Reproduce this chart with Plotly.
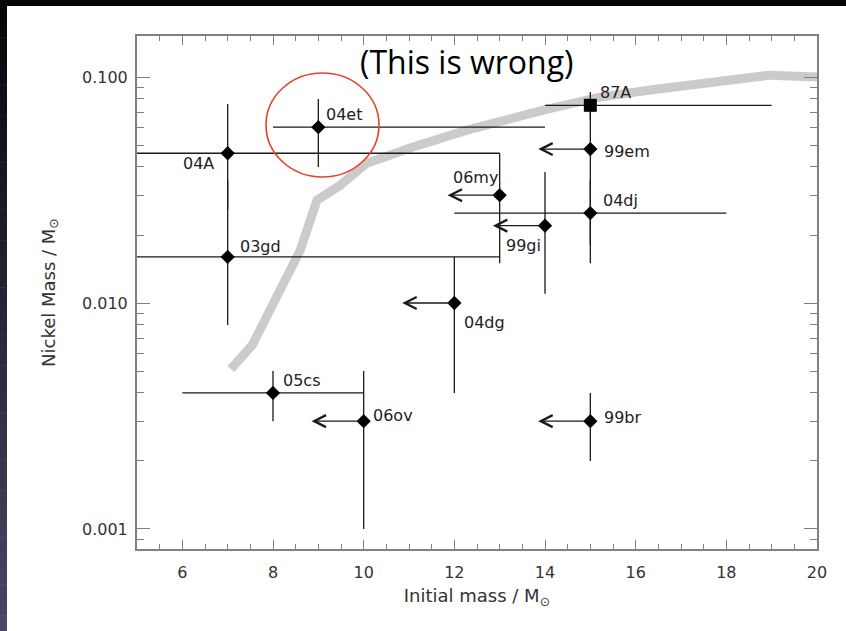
import numpy as np
import plotly.graph_objects as go

# ---------------- data ----------------
sn_names = ["87A", "04et", "04A", "99em", "06my", "04dj", "99gi", "03gd", "04dg", "05cs", "06ov", "99br"]
init_mass = [15, 9, 7, 15, 13, 15, 14, 7, 12, 8, 10, 15]
mass_err_minus = [1, 1, 2, 0, 0, 3, 0, 2, 0, 2, 0, 0]
mass_err_plus = [4, 5, 6, 0, 0, 3, 0, 6, 0, 2, 0, 0]
nickel_mass = [0.075, 0.060, 0.046, 0.048, 0.030, 0.025, 0.022, 0.016, 0.010, 0.004, 0.003, 0.003]
ni_err_minus = [0.010, 0.020, 0.020, 0.030, 0.015, 0.010, 0.011, 0.008, 0.006, 0.001, 0.002, 0.001]
ni_err_plus = [0.011, 0.020, 0.030, 0.022, 0.016, 0.010, 0.016, 0.019, 0.006, 0.001, 0.002, 0.001]
upper_limit = [False, False, False, True, True, False, True, False, True, False, True, True]
arrow_len = [0, 0, 0, 1.15, 1.15, 0, 1.15, 0, 1.15, 0, 1.15, 1.15]

model_mass = [7.07, 7.54, 8.6, 8.97, 9.48, 10.07, 11.09, 12.28, 13.96, 15.21, 16.32, 17.8, 18.96, 20.0]
model_nickel = [0.0051, 0.0065, 0.0171, 0.0285, 0.0332, 0.0416, 0.049, 0.0582, 0.0714, 0.0815, 0.0876, 0.0942, 0.102, 0.100]

x_ticks = [6, 8, 10, 12, 14, 16, 18, 20]
y_ticks = [0.001, 0.010, 0.100]
y_ticktext = ["0.001", "0.010", "0.100"]

# label placement (pixel offsets: xshift, yshift, anchor)
label_pos = {
    "87A": (8, 13, "left"), "04et": (6, 13, "left"), "04A": (-12, -10, "right"),
    "99em": (12, -2, "left"), "06my": (0, 18, "right"), "04dj": (11, 13, "left"),
    "99gi": (-2, -20, "right"), "03gd": (10, 10, "left"), "04dg": (8, -19, "left"),
    "05cs": (8, 12, "left"), "06ov": (7, 6, "left"), "99br": (12, 4, "left"),
}

W, H = 846, 631
L, R, T, B = 137, 29, 36, 82
PW, PH = W - L - R, H - T - B

def px2paper(x, y):
    return (x - L) / PW, 1 - (y - T) / PH

fig = go.Figure()

# model curve
fig.add_trace(go.Scatter(x=model_mass, y=model_nickel, mode="lines",
                         line=dict(color="#cbcbcb", width=9), hoverinfo="skip",
                         showlegend=False))

ink = "#1a1a1a"
for i, n in enumerate(sn_names):
    sym = "square" if n == "87A" else "diamond"
    size = 13 if n == "87A" else 11
    fig.add_trace(go.Scatter(
        x=[init_mass[i]], y=[nickel_mass[i]], mode="markers",
        marker=dict(symbol=sym, size=size, color="black", line=dict(width=0)),
        error_x=dict(type="data", symmetric=False, array=[mass_err_plus[i]],
                     arrayminus=[mass_err_minus[i]], color=ink, thickness=1.3, width=0,
                     visible=mass_err_plus[i] + mass_err_minus[i] > 0),
        error_y=dict(type="data", symmetric=False, array=[ni_err_plus[i]],
                     arrayminus=[ni_err_minus[i]], color=ink, thickness=1.3, width=0),
        showlegend=False, hoverinfo="skip"))

annotations = []
for i, n in enumerate(sn_names):
    xs, ys, anc = label_pos[n]
    annotations.append(dict(x=init_mass[i], y=np.log10(nickel_mass[i]), xref="x", yref="y",
                            text=n, showarrow=False, xanchor=anc, yanchor="middle",
                            xshift=xs, yshift=ys,
                            font=dict(family="DejaVu Sans", size=16, color="#222")))
    if upper_limit[i]:
        annotations.append(dict(x=init_mass[i] - arrow_len[i], y=np.log10(nickel_mass[i]),
                                ax=init_mass[i], ay=np.log10(nickel_mass[i]),
                                xref="x", yref="y", axref="x", ayref="y",
                                text=" ", showarrow=True, arrowhead=5, arrowsize=1.8,
                                arrowwidth=1.3, arrowcolor=ink, standoff=0, startstandoff=0))

tx, ty = px2paper(467, 61)
annotations.append(dict(x=tx, y=ty, xref="paper", yref="paper",
                        text="(This is wrong)", showarrow=False, yanchor="middle",
                        xanchor="center",
                        font=dict(family="Open Sans", size=32, color="black")))

shapes = []
# dark border strips (top and left, gradient on the left)
a0, b0 = px2paper(0, 6)
a1, b1 = px2paper(W, 0)
shapes.append(dict(type="rect", xref="paper", yref="paper", x0=a0, y0=b0, x1=a1, y1=b1,
                   fillcolor="#050507", line=dict(width=0), layer="below"))
nstrip = 40
c0 = np.array([6, 6, 10]); c1 = np.array([70, 72, 100])
for k in range(nstrip):
    t = k / (nstrip - 1)
    c = (c0 + (c1 - c0) * t).astype(int)
    ya = 6 + (H - 6) * k / nstrip
    yb = 6 + (H - 6) * (k + 1) / nstrip + 0.5
    a0, b0 = px2paper(0, yb)
    a1, b1 = px2paper(7, ya)
    shapes.append(dict(type="rect", xref="paper", yref="paper", x0=a0, y0=b0, x1=a1, y1=b1,
                       fillcolor=f"rgb({c[0]},{c[1]},{c[2]})", line=dict(width=0), layer="below"))
# red circle
e0 = px2paper(266, 177)
e1 = px2paper(379, 73)
shapes.append(dict(type="circle", xref="paper", yref="paper", x0=e0[0], y0=e0[1], x1=e1[0], y1=e1[1],
                   line=dict(color="#e8402a", width=1.6), layer="above"))

axcol = "#808080"
fig.update_layout(
    width=W, height=H, margin=dict(l=L, r=R, t=T, b=B),
    paper_bgcolor="white", plot_bgcolor="white",
    shapes=shapes, annotations=annotations,
    xaxis=dict(range=[5, 20], tickvals=x_ticks, ticks="inside", ticklen=9, tickwidth=1.3,
               tickcolor=axcol, showline=True, linecolor=axcol, linewidth=2, mirror="allticks",
               showgrid=False, zeroline=False, ticklabelstandoff=8,
               minor=dict(dtick=0.5, tick0=5, ticks="inside", ticklen=5, tickcolor=axcol, tickwidth=1.2),
               tickfont=dict(family="DejaVu Sans", size=16, color="#333"),
               title=dict(text="Initial mass / M<sub>⊙</sub>", standoff=8,
                          font=dict(family="DejaVu Sans", size=18, color="#333"))),
    yaxis=dict(type="log", range=[np.log10(0.000815), np.log10(0.152)], tickvals=y_ticks,
               ticktext=y_ticktext, ticks="inside", ticklen=13, tickwidth=1.3,
               tickcolor=axcol, showline=True, linecolor=axcol, linewidth=2, mirror="allticks",
               showgrid=False, zeroline=False, ticklabelstandoff=4,
               minor=dict(dtick="D1", ticks="inside", ticklen=7, tickcolor=axcol, tickwidth=1.2),
               tickfont=dict(family="DejaVu Sans", size=16, color="#333"),
               title=dict(text="Nickel Mass / M<sub>⊙</sub>", standoff=22,
                          font=dict(family="DejaVu Sans", size=18, color="#333"))),
)

fig.write_html("out.html")
